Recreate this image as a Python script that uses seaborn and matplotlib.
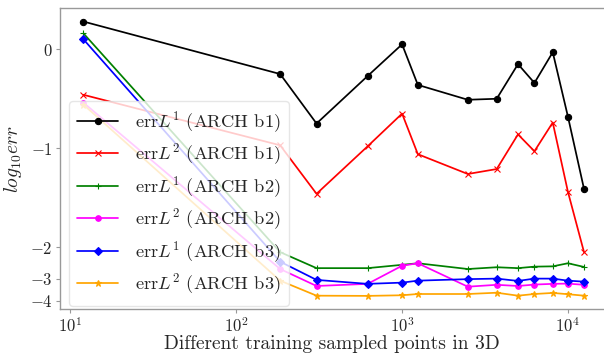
import numpy as np
import pandas as pd
import matplotlib
matplotlib.use("Agg")
import matplotlib.pyplot as plt
import seaborn as sns

# Training set sizes (number of sampled points in 3D)
sample_points = [12, 184, 305, 620, 1000, 1245, 2490, 3720, 5000, 6280, 8100, 10000, 12500]

# log10 of the errors for each architecture
err_l1_b1 = [0.28, -0.25, -0.75, -0.27, 0.05, -0.36, -0.51, -0.50, -0.15, -0.34, -0.03, -0.68, -1.41]
err_l2_b1 = [-0.46, -0.97, -1.46, -0.98, -0.65, -1.06, -1.26, -1.21, -0.86, -1.03, -0.74, -1.44, -2.13]
err_l1_b2 = [0.16, -2.13, -2.62, -2.62, -2.51, -2.46, -2.65, -2.59, -2.62, -2.57, -2.56, -2.46, -2.58]
err_l2_b2 = [-0.54, -2.65, -3.30, -3.21, -2.54, -2.46, -3.33, -3.25, -3.30, -3.24, -3.21, -3.20, -3.25]
err_l1_b3 = [0.10, -2.41, -3.05, -3.21, -3.16, -3.08, -3.02, -3.00, -3.09, -3.00, -3.00, -3.08, -3.12]
err_l2_b3 = [-0.56, -3.08, -3.74, -3.75, -3.72, -3.66, -3.66, -3.60, -3.74, -3.66, -3.61, -3.67, -3.74]

series_labels = [
    r"err$L^1$ (ARCH b1)",
    r"err$L^2$ (ARCH b1)",
    r"err$L^1$ (ARCH b2)",
    r"err$L^2$ (ARCH b2)",
    r"err$L^1$ (ARCH b3)",
    r"err$L^2$ (ARCH b3)",
]
series_values = [err_l1_b1, err_l2_b1, err_l1_b2, err_l2_b2, err_l1_b3, err_l2_b3]
series_colors = ["black", "red", "green", "magenta", "blue", "orange"]
series_markers = ["o", "x", "+", "o", "D", "*"]
marker_sizes = [4.5, 4, 5, 4, 4, 4.5]

y_tick_values = [0, -1, -2, -3, -4]

sns.set_style("ticks")
plt.rcParams["font.family"] = ["cmr10", "DejaVu Serif"]
plt.rcParams["mathtext.fontset"] = "cm"
plt.rcParams["axes.unicode_minus"] = False
plt.rcParams["axes.formatter.use_mathtext"] = True

fig = plt.figure(figsize=(6.04, 3.54), dpi=100)
ax = fig.add_axes([59.5 / 604, 1 - 309.3 / 354, 1 - 59.5 / 604, (309.3 - 8.3) / 354])

frames = []
for label, vals in zip(series_labels, series_values):
    frames.append(pd.DataFrame({"points": sample_points, "log_err": vals, "series": label}))
df = pd.concat(frames, ignore_index=True)

for label, color, marker, ms in zip(series_labels, series_colors, series_markers, marker_sizes):
    sub = df[df["series"] == label]
    sns.lineplot(data=sub, x="points", y="log_err", ax=ax, color=color,
                 marker=marker, markersize=ms, linewidth=1.25,
                 markeredgecolor=color, markeredgewidth=0.8,
                 label=label, sort=False)

ax.set_xscale("log")
ax.set_yscale("symlog", linthresh=2)
ax.set_xlim(8.6, 16500)
ax.set_ylim(-4.46, 0.414)
ax.set_yticks(y_tick_values)
ax.set_yticklabels([f"${v}$" for v in y_tick_values])
ax.yaxis.set_minor_locator(matplotlib.ticker.NullLocator())
ax.xaxis.set_minor_locator(matplotlib.ticker.NullLocator())

ax.tick_params(axis="both", labelsize=12, length=3, width=0.8, color="0.6", pad=2)
for side in ["left", "bottom", "top"]:
    ax.spines[side].set_color("0.6")
    ax.spines[side].set_linewidth(1.0)
ax.spines["right"].set_visible(False)

ax.set_xlabel("Different training sampled points in 3D", fontsize=14, labelpad=0)
ax.set_ylabel(r"$log_{10}err$", fontsize=14, labelpad=4)

leg = ax.legend(loc="upper left", bbox_to_anchor=(0.0174, 0.692), borderaxespad=0,
                fontsize=13.3, frameon=True, framealpha=0.8, handlelength=2.2,
                handletextpad=0.9, labelspacing=0.39, borderpad=0.45)
leg.get_frame().set_edgecolor("0.88")

fig.savefig("out.png", dpi=100)
